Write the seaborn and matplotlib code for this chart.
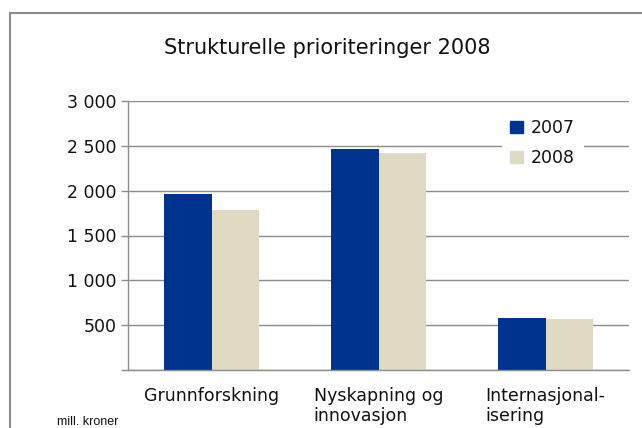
import pandas as pd
import matplotlib.pyplot as plt
import matplotlib.ticker as ticker
from matplotlib.patches import Rectangle
import seaborn as sns

categories = ["Grunnforskning", "Nyskapning og\ninnovasjon", "Internasjonal-\nisering"]
years = ["2007", "2008"]
values_2007 = [1962, 2464, 580]
values_2008 = [1784, 2419, 571]

df = pd.DataFrame({
    "kategori": categories * 2,
    "aar": [years[0]] * 3 + [years[1]] * 3,
    "verdi": values_2007 + values_2008,
})

sns.set_style("white")
plt.rcParams["font.family"] = ["DejaVu Sans"]
plt.rcParams["text.color"] = "#111111"
plt.rcParams["xtick.labelcolor"] = "#111111"
plt.rcParams["ytick.labelcolor"] = "#111111"

fig = plt.figure(figsize=(6.42, 4.28), dpi=100)
ax = fig.add_axes([128 / 642, 1 - 370 / 428, (629 - 128) / 642, (370 - 101) / 428])

palette = {"2007": "#00338D", "2008": "#DFDAC4"}
sns.barplot(data=df, x="kategori", y="verdi", hue="aar", palette=palette,
            width=0.574, saturation=1, ax=ax, legend=False, edgecolor="none")

ax.set_ylim(0, 3000)
ax.set_xlim(-0.5, 2.5)
ax.set_yticks(range(0, 3001, 500))

def space_format(num, pos):
    if num == 0:
        return ""
    return f"{int(num):,}".replace(",", " ")

ax.yaxis.set_major_formatter(ticker.FuncFormatter(space_format))
ax.grid(axis="y", color="#8c8c8c", linewidth=1)
ax.set_axisbelow(True)

ax.set_xlabel("")
ax.set_ylabel("")
ax.set_xticks([0, 1, 2])
ax.set_xticklabels(categories, fontsize=12.5, ha="center", multialignment="left",
                   linespacing=1.2)
ax.set_xticks([-0.5, 0.5, 1.5, 2.5], minor=True)
ax.tick_params(axis="x", which="major", length=0, pad=12)
ax.tick_params(axis="x", which="minor", length=5, color="#8c8c8c", width=1, direction="out")
ax.tick_params(axis="y", length=5, color="#8c8c8c", width=1, direction="out",
               labelsize=12.5, pad=3, left=True)

for side in ["top", "right"]:
    ax.spines[side].set_visible(False)
for side in ["left", "bottom"]:
    ax.spines[side].set_color("#8c8c8c")
    ax.spines[side].set_linewidth(1)

handles = [Rectangle((0, 0), 1, 1, color=palette[y]) for y in years]
leg = ax.legend(handles, years, loc="center left",
                bbox_to_anchor=(493 / 642, 1 - 143 / 428), bbox_transform=fig.transFigure,
                frameon=True, facecolor="white", edgecolor="none", framealpha=1,
                fontsize=12.5, handlelength=0.7, handleheight=0.7, handletextpad=0.5,
                labelspacing=0.72, borderpad=0.5, fancybox=False)

fig.text(327 / 642, 1 - 48 / 428, "Strukturelle prioriteringer 2008",
         ha="center", va="center", fontsize=15)
fig.text(57 / 642, 1 - 422 / 428, "mill. kroner", ha="left", va="center",
         fontsize=9, family=["Liberation Sans"])

fig.patches.append(Rectangle((10 / 642, -0.1), 1.2, (428 - 13) / 428 + 0.1,
                             transform=fig.transFigure, fill=False,
                             edgecolor="#8c8c8c", linewidth=1.5))

fig.savefig("out.png", dpi=100)
